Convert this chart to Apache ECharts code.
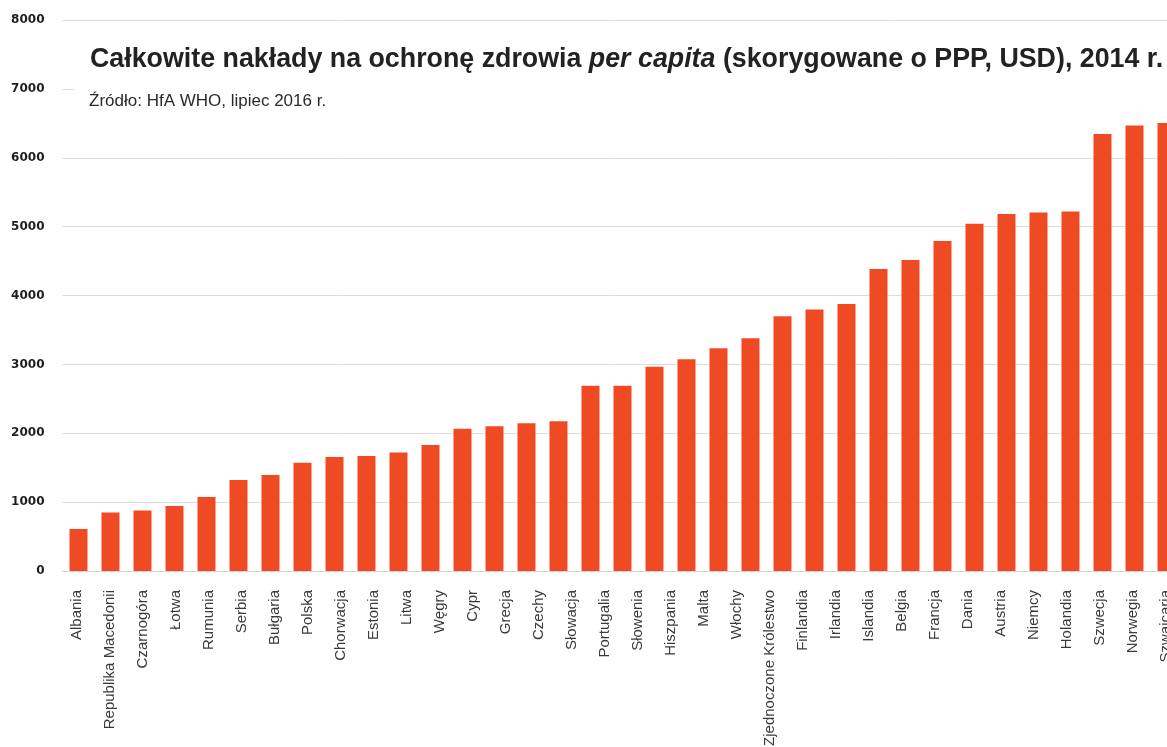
<!DOCTYPE html>
<html>
<head>
<meta charset="utf-8">
<script src="https://cdn.jsdelivr.net/npm/echarts@6/dist/echarts.min.js"></script>
<style>
  html, body { margin: 0; padding: 0; background: #ffffff; }
  #chart { width: 1167px; height: 747px; }
</style>
</head>
<body>
<div id="chart"></div>
<script>
// Country names shown under the bars (the last bar's name runs past the right edge)
const countries = [
  'Albania', 'Republika Macedonii', 'Czarnogóra', 'Łotwa', 'Rumunia', 'Serbia',
  'Bułgaria', 'Polska', 'Chorwacja', 'Estonia', 'Litwa', 'Węgry', 'Cypr', 'Grecja',
  'Czechy', 'Słowacja', 'Portugalia', 'Słowenia', 'Hiszpania', 'Malta', 'Włochy',
  'Zjednoczone Królestwo', 'Finlandia', 'Irlandia', 'Islandia', 'Belgia', 'Francja',
  'Dania', 'Austria', 'Niemcy', 'Holandia', 'Szwecja', 'Norwegia', 'Szwajcaria'
];

// Total health expenditure per capita (PPP, USD), 2014
const spending = [
  610, 850, 880, 945, 1075, 1320, 1395, 1570, 1655, 1670, 1720, 1830,
  2065, 2100, 2145, 2175, 2690, 2690, 2965, 3075, 3235, 3380, 3700, 3795,
  3875, 4385, 4515, 4790, 5040, 5185, 5205, 5220, 6345, 6470, 6505
];

// Value axis ticks
const yTicks = [0, 1000, 2000, 3000, 4000, 5000, 6000, 7000, 8000];

const titleText = 'Całkowite nakłady na ochronę zdrowia ';
const titleItalic = 'per capita';
const titleRest = ' (skorygowane o PPP, USD), 2014 r.';
const sourceText = 'Źródło: HfA WHO, lipiec 2016 r.';

const chart = echarts.init(document.getElementById('chart'), null, { renderer: 'canvas' });

const option = {
  backgroundColor: '#ffffff',
  animation: false,
  grid: [
    { left: 62.5, right: -15.5, top: 20, bottom: 176, outerBoundsMode: 'none', containLabel: false },
    { left: 60.5, width: 1122, top: 20, bottom: 176, outerBoundsMode: 'none', containLabel: false }
  ],
  xAxis: [
    {
      type: 'category',
      gridIndex: 0,
      data: spending.map((_, i) => countries[i] || ''),
      axisLine: { show: true, lineStyle: { color: '#d4d4d4', width: 1 } },
      axisTick: { show: false },
      axisLabel: { show: false },
      splitLine: { show: false }
    },
    {
      type: 'category',
      gridIndex: 1,
      data: countries,
      axisLine: { show: false },
      axisTick: { show: false },
      splitLine: { show: false },
      axisLabel: {
        show: true,
        interval: 0,
        rotate: 90,
        margin: 19,
        fontFamily: 'Liberation Sans',
        fontSize: 15,
        color: '#3a3a3a'
      }
    }
  ],
  yAxis: [
    {
      type: 'value',
      gridIndex: 0,
      min: yTicks[0],
      max: yTicks[yTicks.length - 1],
      interval: yTicks[1] - yTicks[0],
      axisLine: { show: false },
      axisTick: { show: false },
      splitLine: { show: true, lineStyle: { color: '#dcdcdc', width: 1 } },
      axisLabel: {
        margin: 18,
        formatter: (v) => String(v),
        fontFamily: 'DejaVu Sans',
        fontWeight: 'bold',
        fontSize: 12,
        color: '#1e1e1e'
      }
    },
    {
      type: 'value',
      gridIndex: 1,
      show: false,
      min: 0,
      max: 1
    }
  ],
  series: [
    {
      type: 'bar',
      xAxisIndex: 0,
      yAxisIndex: 0,
      data: spending,
      barWidth: 18,
      itemStyle: { color: '#f04a24' }
    }
  ],
  graphic: [
    {
      type: 'rect',
      z: 100,
      shape: { x: 74, y: 28, width: 1120, height: 90 },
      style: { fill: '#ffffff' }
    },
    {
      type: 'text',
      z: 101,
      x: 90,
      y: 60,
      style: {
        text: '{b|' + titleText + '}{i|' + titleItalic + '}{b|' + titleRest + '}',
        verticalAlign: 'middle',
        rich: {
          b: { fontFamily: 'Liberation Sans', fontWeight: 'bold', fontSize: 26.8, fill: '#222222' },
          i: { fontFamily: 'Liberation Sans', fontWeight: 'bold', fontStyle: 'italic', fontSize: 26.8, fill: '#222222' }
        }
      }
    },
    {
      type: 'text',
      z: 101,
      x: 89,
      y: 101,
      style: {
        text: sourceText,
        verticalAlign: 'middle',
        fontFamily: 'Liberation Sans',
        fontSize: 17,
        fill: '#2a2a2a'
      }
    }
  ]
};

chart.setOption(option);
</script>
</body>
</html>
